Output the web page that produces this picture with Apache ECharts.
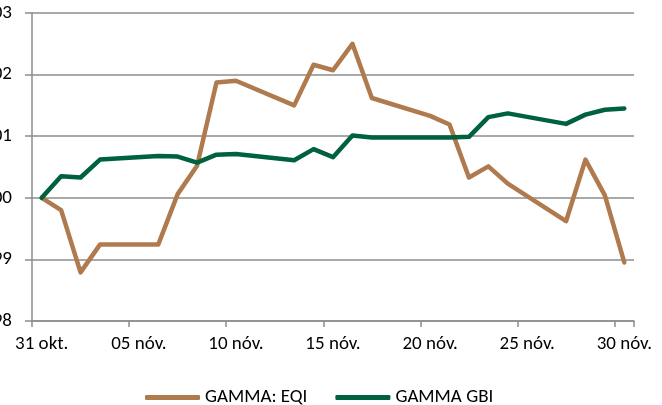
<!DOCTYPE html>
<html>
<head>
<meta charset="utf-8">
<script src="https://cdn.jsdelivr.net/npm/echarts@6/dist/echarts.min.js"></script>
<style>
html,body{margin:0;padding:0;background:#fff;}
#c{width:662px;height:405px;}
</style>
</head>
<body>
<div id="c"></div>
<script>
var categories = ["31 okt.","01 nóv.","02 nóv.","03 nóv.","04 nóv.","05 nóv.","06 nóv.","07 nóv.","08 nóv.","09 nóv.",
  "10 nóv.","11 nóv.","12 nóv.","13 nóv.","14 nóv.","15 nóv.","16 nóv.","17 nóv.","18 nóv.","19 nóv.",
  "20 nóv.","21 nóv.","22 nóv.","23 nóv.","24 nóv.","25 nóv.","26 nóv.","27 nóv.","28 nóv.","29 nóv.","30 nóv."];
var seriesNames = ["GAMMA: EQI", "GAMMA GBI"];
var eqi = [100.0, 99.80, 98.79, 99.24, null, null, 99.24, 100.06, 100.52, 101.87,
  101.90, null, null, 101.50, 102.16, 102.07, 102.50, 101.62, null, null,
  101.33, 101.19, 100.33, 100.51, 100.23, null, null, 99.62, 100.62, 100.04, 98.95];
var gbi = [100.0, 100.35, 100.33, 100.62, null, null, 100.68, 100.67, 100.57, 100.70,
  100.71, null, null, 100.61, 100.79, 100.66, 101.01, 100.98, null, null,
  100.98, 100.98, 100.99, 101.31, 101.37, null, null, 101.20, 101.35, 101.43, 101.45];
var yMin = 98, yMax = 103, yStep = 1;

var FONT = "Carlito, Lato, sans-serif";
var chart = echarts.init(document.getElementById('c'), null, {renderer: 'canvas'});
chart.setOption({
  animation: false,
  backgroundColor: '#ffffff',
  grid: {left: 32, right: 28, top: 13, bottom: 84, containLabel: false, outerBoundsMode: 'none'},
  legend: {
    left: 140, top: 383,
    itemWidth: 55, itemHeight: 5, itemGap: 28,
    icon: 'roundRect',
    textStyle: {fontFamily: FONT, fontSize: 19, color: '#000'},
    data: seriesNames
  },
  xAxis: {
    type: 'category',
    data: categories,
    boundaryGap: true,
    axisLine: {lineStyle: {color: '#8c8c8c', width: 1.5}},
    axisTick: {show: true, length: 6, interval: function (i) { return i % 5 === 0; }, lineStyle: {color: '#8c8c8c', width: 1.5}},
    axisLabel: {interval: function (i) { return i % 5 === 0; }, margin: 14, fontFamily: FONT, fontSize: 19, color: '#000'},
    splitLine: {show: false}
  },
  yAxis: {
    type: 'value',
    min: yMin, max: yMax, interval: yStep,
    axisLine: {show: true, lineStyle: {color: '#8c8c8c', width: 1.5}},
    axisTick: {show: true, length: 7, lineStyle: {color: '#8c8c8c', width: 1.5}},
    axisLabel: {margin: 20, fontFamily: FONT, fontSize: 19, color: '#000'},
    splitLine: {show: true, lineStyle: {color: '#8c8c8c', width: 1.5}}
  },
  series: [
    {name: seriesNames[0], type: 'line', data: eqi, connectNulls: true, symbol: 'none',
     itemStyle: {color: '#b07a4f'},
     lineStyle: {color: '#b07a4f', width: 4.5, cap: 'round', join: 'round'}},
    {name: seriesNames[1], type: 'line', data: gbi, connectNulls: true, symbol: 'none',
     itemStyle: {color: '#00613f'},
     lineStyle: {color: '#00613f', width: 4.5, cap: 'round', join: 'round'}}
  ]
});
</script>
</body>
</html>
